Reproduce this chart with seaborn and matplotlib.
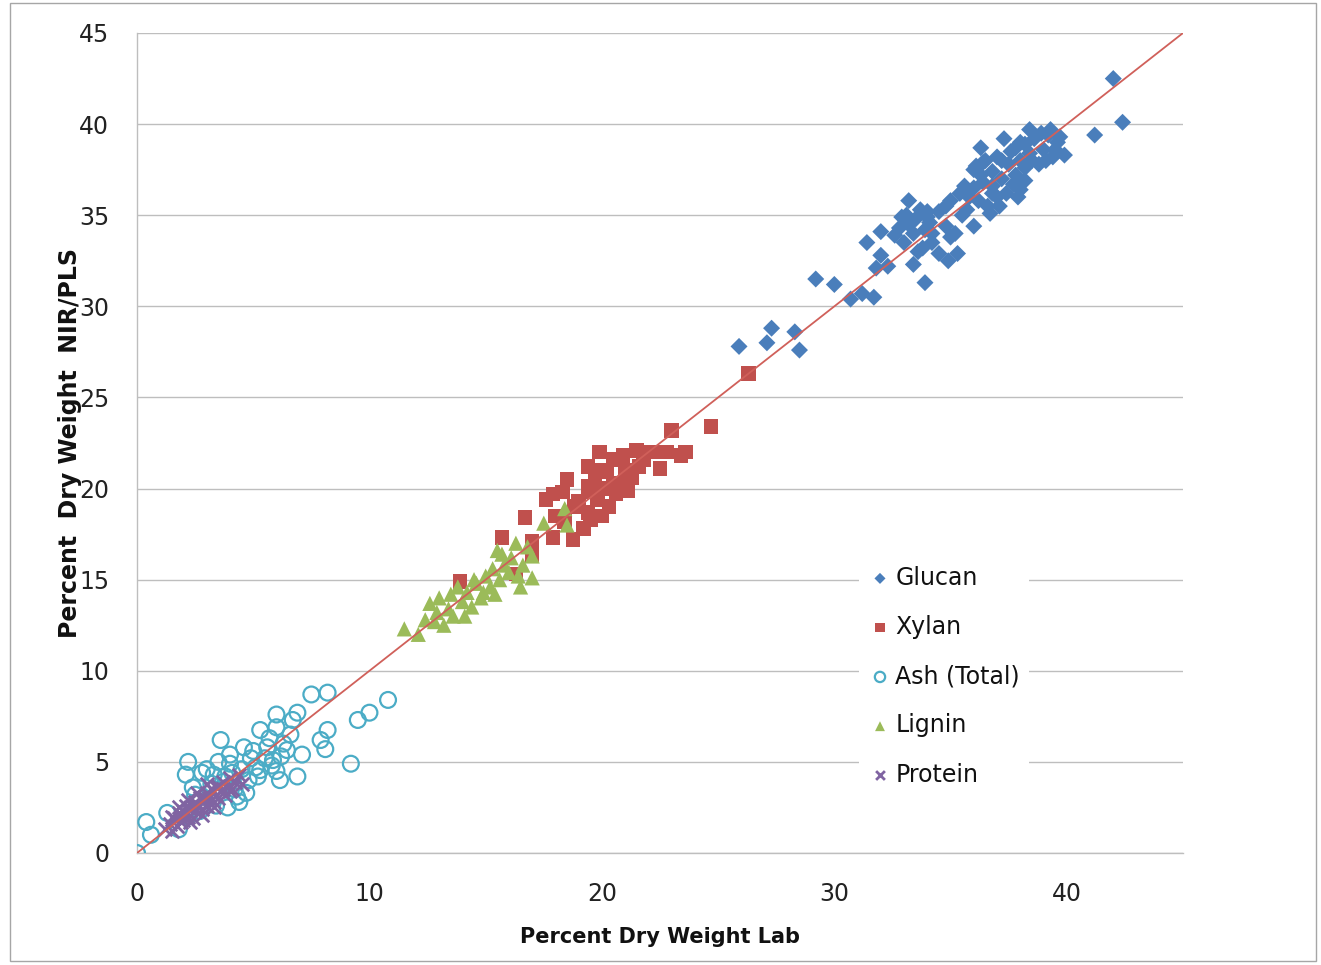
import matplotlib
matplotlib.use("Agg")
import matplotlib.pyplot as plt
import matplotlib.patches as mpatches
import seaborn as sns

# ---------------- data ----------------
glucan_x = [25.9, 27.3, 27.1, 28.3, 28.5, 29.2, 30.0, 30.7, 31.2, 31.7, 31.4, 32.0, 32.0, 31.8, 32.3,
            33.2, 32.9, 33.4, 33.4, 33.9, 34.0, 34.5, 34.9, 35.3, 34.8, 35.4, 36.0, 35.7, 36.3, 36.1,
            36.7, 36.8, 37.1, 37.2, 37.8, 38.0, 38.2, 38.4, 38.5, 39.3, 39.1, 39.7, 39.9, 41.2, 42.4, 42.0,
            33.0, 33.5, 33.8, 34.2, 34.5, 34.8, 35.0, 35.2, 35.5, 35.8, 36.0, 36.2, 36.4, 36.5, 36.6,
            36.8, 37.0, 37.0, 37.2, 37.4, 37.5, 37.6, 37.8, 38.0, 38.0, 38.2, 38.4, 38.6, 38.8, 39.0,
            39.2, 39.4, 39.6, 38.2, 37.3, 36.3, 35.6, 34.2, 33.6, 33.2, 34.0, 35.0, 36.8, 37.9, 36.0,
            32.8, 33.1, 33.7, 34.1, 32.6, 33.9, 36.4, 37.7, 38.9, 39.5]
glucan_y = [27.8, 28.8, 28.0, 28.6, 27.6, 31.5, 31.2, 30.4, 30.7, 30.5, 33.5, 34.1, 32.8, 32.1, 32.2,
            35.8, 34.9, 34.0, 32.3, 31.3, 34.9, 32.9, 32.5, 32.9, 35.5, 36.2, 34.4, 35.3, 38.7, 37.7,
            35.1, 36.6, 35.5, 38.0, 38.7, 36.4, 36.9, 39.7, 38.0, 39.7, 38.0, 39.3, 38.3, 39.4, 40.1, 42.5,
            33.5, 34.8, 33.2, 34.0, 35.2, 34.4, 35.8, 34.0, 35.0, 36.0, 37.5, 35.8, 36.8, 38.0, 35.5,
            37.4, 36.0, 38.2, 37.0, 36.2, 37.8, 38.5, 37.2, 38.0, 39.0, 37.6, 38.4, 39.2, 37.8, 38.6,
            39.4, 38.2, 39.0, 38.9, 39.2, 37.2, 36.6, 33.5, 33.0, 34.5, 35.2, 33.8, 36.2, 36.0, 36.5,
            34.3, 35.0, 35.3, 34.6, 33.9, 34.2, 37.9, 36.7, 39.5, 38.6]

xylan_x = [26.3, 24.7, 23.0, 23.6, 23.4, 22.5, 22.4, 21.5, 21.8, 21.3, 21.1, 20.5, 20.5, 20.2, 19.9,
           19.9, 19.4, 19.4, 19.8, 19.4, 20.0, 20.3, 20.8, 21.0, 19.6, 19.0, 18.5, 18.8, 18.3, 17.9,
           17.6, 17.9, 18.75, 18.4, 17.0, 16.7, 15.7, 16.3, 17.0, 13.9, 19.2, 20.6, 21.6, 22.0, 19.7,
           20.2, 18.0, 21.0, 19.5, 20.9, 22.8]
xylan_y = [26.3, 23.4, 23.2, 22.0, 21.8, 21.1, 22.0, 22.1, 21.6, 20.6, 19.9, 21.6, 20.3, 20.9, 22.0,
           21.0, 21.2, 20.1, 19.4, 18.7, 18.5, 19.0, 20.0, 21.0, 19.8, 19.3, 20.5, 19.0, 19.8, 19.7,
           19.4, 17.3, 17.2, 18.2, 17.1, 18.4, 17.3, 15.3, 16.3, 14.9, 17.8, 19.7, 21.2, 22.0, 20.5,
           20.0, 18.5, 20.4, 18.3, 21.8, 22.0]

ash_x = [0.0, 0.4, 0.6, 1.3, 1.8, 2.1, 2.2, 2.8, 3.0, 3.6, 2.5, 2.2, 3.2, 3.5, 3.8, 4.0, 4.0, 4.2, 4.3,
         3.9, 4.5, 4.6, 4.7, 4.8, 5.0, 5.1, 5.3, 5.3, 5.5, 5.6, 5.85, 6.0, 6.0, 6.15, 6.3, 6.45, 6.2,
         6.0, 6.9, 6.9, 7.1, 7.5, 7.9, 8.1, 8.2, 8.2, 9.2, 9.5, 10.0, 10.8, 4.4, 3.4, 2.7, 5.7, 4.9,
         3.7, 3.3, 2.4, 5.2, 6.6, 6.7, 5.8, 4.1]
ash_y = [0.0, 1.7, 1.0, 2.2, 1.3, 4.3, 5.0, 4.4, 4.6, 6.2, 3.2, 2.0, 3.8, 5.0, 4.2, 4.9, 5.4, 3.5, 3.1,
         2.5, 4.6, 5.8, 3.3, 4.0, 5.6, 4.7, 4.55, 6.75, 5.2, 5.8, 5.1, 7.6, 6.9, 4.0, 6.0, 5.65, 5.3,
         4.5, 7.7, 4.2, 5.4, 8.7, 6.2, 5.7, 6.75, 8.8, 4.9, 7.3, 7.7, 8.4, 2.8, 2.6, 2.3, 6.3, 5.2,
         3.9, 4.3, 3.6, 4.2, 6.5, 7.3, 4.8, 4.4]

lignin_x = [11.5, 12.1, 12.6, 12.9, 12.8, 13.2, 13.0, 13.4, 13.8, 13.6, 14.0, 14.2, 14.4, 14.6, 14.8,
            14.9, 15.0, 15.2, 15.3, 15.5, 15.6, 15.8, 16.0, 16.1, 16.3, 16.5, 16.6, 16.8, 17.0, 17.0,
            17.5, 18.4, 18.5, 12.4, 13.5, 14.5, 15.7, 16.4, 14.1, 15.4]
lignin_y = [12.3, 12.0, 13.7, 13.2, 12.7, 12.5, 14.0, 13.4, 14.6, 13.0, 13.8, 14.3, 13.5, 14.8, 14.0,
            14.3, 15.2, 14.6, 15.6, 16.6, 15.0, 15.8, 15.4, 16.2, 17.0, 14.6, 15.8, 16.8, 15.1, 16.3,
            18.1, 18.9, 18.0, 12.8, 14.2, 15.0, 16.4, 15.2, 13.0, 14.2]

protein_x = [1.2, 1.4, 1.5, 1.6, 1.7, 1.8, 1.9, 2.0, 2.0, 2.1, 2.2, 2.3, 2.4, 2.5, 2.5, 2.6, 2.7, 2.8,
             2.9, 3.0, 3.0, 3.1, 3.2, 3.3, 3.4, 3.5, 3.5, 3.6, 3.7, 3.8, 3.9, 4.0, 4.1, 4.2, 4.4, 4.5,
             1.8, 2.2, 2.6, 3.0, 2.3, 2.8, 3.3, 1.5, 1.9, 2.4, 2.9, 3.4, 3.7, 4.0]
protein_y = [1.3, 1.6, 1.2, 1.9, 1.5, 2.2, 1.7, 2.3, 1.8, 2.6, 2.0, 2.4, 1.9, 2.8, 2.3, 2.6, 3.0, 2.4,
             2.9, 3.3, 2.6, 3.0, 3.5, 2.8, 3.2, 3.7, 3.0, 3.4, 3.9, 3.2, 3.6, 4.1, 3.5, 3.9, 4.3, 3.8,
             2.5, 2.9, 3.3, 3.8, 1.7, 2.1, 2.5, 2.0, 2.1, 2.6, 3.1, 3.6, 3.5, 3.4]

line_x = [0, 45]
line_y = [0, 45]

x_ticks = [0, 10, 20, 30, 40]
y_ticks = [0, 5, 10, 15, 20, 25, 30, 35, 40, 45]

# ---------------- styling ----------------
sns.set_theme(style="white")
plt.rcParams['font.family'] = ['DejaVu Sans']

fig = plt.figure(figsize=(13.21, 9.65), dpi=100)
ax = fig.add_axes([137/1321, 1 - 853/965, (1183 - 137)/1321, (853 - 33)/965])

grid_c = '#BEBEBE'
sns.scatterplot(x=glucan_x, y=glucan_y, ax=ax, marker='D', s=75, color='#4A7EBB',
                edgecolor='none', linewidth=0, label='Glucan', zorder=3)
sns.scatterplot(x=xylan_x, y=xylan_y, ax=ax, marker='s', s=110, color='#C0504D',
                edgecolor='none', linewidth=0, label='Xylan', zorder=3)
sns.scatterplot(x=ash_x, y=ash_y, ax=ax, marker='o', s=130, facecolor='none',
                edgecolor='#4BACC6', linewidth=1.6, label='Ash (Total)', zorder=3)
sns.scatterplot(x=lignin_x, y=lignin_y, ax=ax, marker='^', s=120, color='#9BBB59',
                edgecolor='none', linewidth=0, label='Lignin', zorder=3)
sns.scatterplot(x=protein_x, y=protein_y, ax=ax, marker='x', s=95, color='#8064A2',
                linewidth=2.0, label='Protein', zorder=3)
sns.lineplot(x=line_x, y=line_y, ax=ax, color='#D0605A', linewidth=1.3, zorder=4, legend=False)

ax.set_xlim(0, 45)
ax.set_ylim(0, 45)
ax.set_xticks(x_ticks)
ax.set_yticks(y_ticks)
ax.tick_params(axis='both', labelsize=17, labelcolor='#222222', color=grid_c,
               length=7, width=1, direction='out')
ax.tick_params(axis='x', pad=14)
ax.tick_params(axis='y', pad=13)
ax.yaxis.grid(True, color=grid_c, linewidth=1)
ax.xaxis.grid(False)
ax.set_axisbelow(True)
for s in ['top', 'right']:
    ax.spines[s].set_visible(False)
for s in ['left', 'bottom']:
    ax.spines[s].set_color(grid_c)
    ax.spines[s].set_linewidth(1)

ax.set_xlabel('Percent Dry Weight Lab', fontsize=15, fontweight='bold', labelpad=15, color='#111111')
ax.set_ylabel('Percent  Dry Weight  NIR/PLS', fontsize=17, fontweight='bold', color='#111111')
ax.yaxis.set_label_coords(-0.053, 0.5)

leg = ax.legend(loc='upper left', bbox_to_anchor=(0.690, 0.362), frameon=True, fontsize=17,
                handletextpad=0.15, labelspacing=1.07, borderpad=0.4, handlelength=1.0,
                markerscale=0.65, borderaxespad=0)
leg.get_frame().set_facecolor('white')
leg.get_frame().set_edgecolor('none')
leg.get_frame().set_alpha(1)
leg.set_zorder(5)
for t in leg.get_texts():
    t.set_color('#111111')

fig.patches.append(mpatches.Rectangle((10/1321, 4/965), 1306/1321, 958/965, transform=fig.transFigure,
                                      fill=False, edgecolor='#A6A6A6', linewidth=1))

fig.savefig('out.png', dpi=100, facecolor='white')
